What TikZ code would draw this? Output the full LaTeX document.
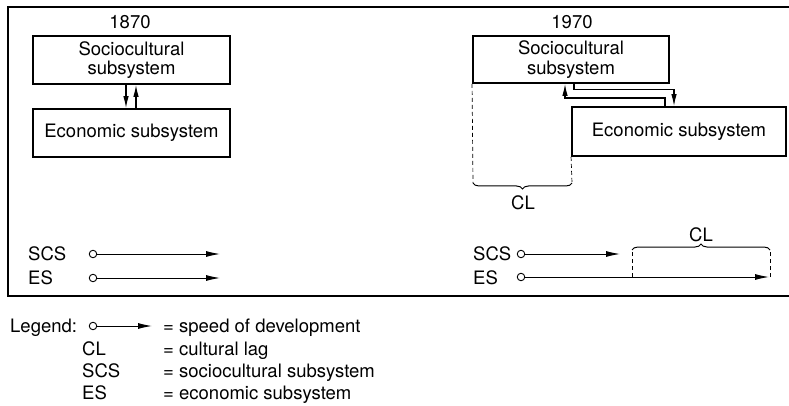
\documentclass[tikz,border=0pt]{standalone}
\usepackage{fontspec}
\setmainfont{TeX Gyre Heros}
\usetikzlibrary{arrows.meta,decorations.pathreplacing}
\begin{document}
\begin{tikzpicture}[x=1pt,y=-1pt,
  font=\fontsize{18.5}{19.5}\selectfont,
  sysbox/.style={draw,line width=1.9pt,align=center,inner sep=0pt},
  conn/.style={line width=1.1pt,-{Latex[length=12pt,width=5.5pt]}},
  speed/.style={line width=1.0pt,-{Latex[length=14pt,width=6pt]}},
  dot/.style={circle,draw,line width=0.9pt,inner sep=0pt,minimum size=7.5pt},
  lbl/.style={anchor=base west,inner sep=0pt},
  mid/.style={anchor=base,inner sep=0pt},
  leg/.style={dashed,dash pattern=on 4pt off 3pt,line width=0.7pt},
  curly/.style={decorate,decoration={brace,amplitude=6pt},line width=1pt},
  frame/.style={line width=1.6pt}]
\useasboundingbox (0,0) rectangle (789,406);

% outer frame, open on the right
\draw[frame] (789,7) -- (8,7) -- (8,296) -- (789,296);

% ---- 1870 ----
\node[mid] (y1) at (130,28.5) {1870};
\node[sysbox,minimum width=197pt,minimum height=48pt] (s1) at (131.5,60) {Sociocultural\\subsystem};
\node[sysbox,minimum width=197pt,minimum height=48pt] (e1) at (131.5,133) {Economic subsystem};
\draw[conn] ([xshift=-5.5pt]s1.south) -- ([xshift=-5.5pt]e1.north);
\draw[conn] ([xshift=4.5pt]e1.north) -- ([xshift=4.5pt]s1.south);

\node[lbl] (scs1) at (28,260.5) {SCS};
\node[lbl] (es1) at (28,284.5) {ES};
\node[dot] (d1) at (93,254) {};
\node[dot] (d2) at (93,278) {};
\coordinate (a1) at (220,254);
\coordinate (a2) at (220,278);
\draw[speed] (d1) -- (a1);
\draw[speed] (d2) -- (a2);

% ---- 1970 ----
\node[mid] (y2) at (572,28.5) {1970};
\node[sysbox,minimum width=196pt,minimum height=47pt] (s2) at (571,59.5) {Sociocultural\\subsystem};
\node[sysbox,minimum width=214pt,minimum height=49pt] (e2) at (679,131.5) {Economic subsystem};
\draw[conn] ([xshift=-14pt]e2.north) -- ++(0,-8) -| ([xshift=-6pt]s2.south);
\draw[conn] ([xshift=3pt]s2.south) -- ++(0,6) -| ([xshift=-5pt]e2.north);

% lag between the two subsystems
\coordinate (b1l) at (473,183);
\coordinate (b1r) at (572,183);
\draw[leg] (s2.south west) -- (b1l);
\draw[leg] (e2.south west) -- (b1r);
\draw[curly] (b1r) -- (b1l);
\node[mid] (cl1) at (523,209.5) {CL};

\node[lbl] (scs2) at (473,260.5) {SCS};
\node[lbl] (es2) at (473,284) {ES};
\node[dot] (d3) at (521,254) {};
\node[dot] (d4) at (521,277) {};
\coordinate (a3) at (620,254);
\coordinate (a4) at (769,277);
\draw[speed] (d3) -- (a3);
\draw[speed] (d4) -- (a4);

\coordinate (f2l) at (632,277);
\coordinate (f2r) at (770,277);
\coordinate (b2l) at (632,250);
\coordinate (b2r) at (770,250);
\draw[leg] (f2l) -- (b2l);
\draw[leg] (f2r) -- (b2r);
\draw[curly] (b2l) -- (b2r);
\node[mid] (cl2) at (701,241.5) {CL};

% ---- legend ----
\node[lbl] (lg) at (10,332.5) {Legend:};
\node[dot] (ld) at (93,326) {};
\coordinate (la) at (152,326);
\draw[speed] (ld) -- (la);
\node[lbl] (lt1) at (163,332.5) {= speed of development};
\node[lbl] (lk2) at (82,355.5) {CL};
\node[lbl] (lt2) at (163,355.5) {= cultural lag};
\node[lbl] (lk3) at (82,377.5) {SCS};
\node[lbl] (lt3) at (163,377.5) {= sociocultural subsystem};
\node[lbl] (lk4) at (82,399.5) {ES};
\node[lbl] (lt4) at (163,399.5) {= economic subsystem};
\end{tikzpicture}
\end{document}
